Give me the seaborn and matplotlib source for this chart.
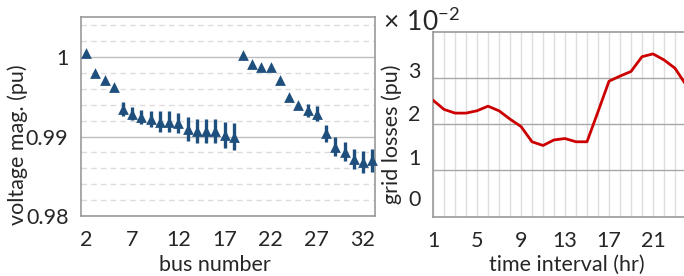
import numpy as np
import pandas as pd
import seaborn as sns
import matplotlib.pyplot as plt
from matplotlib.ticker import MultipleLocator

sns.set_style('white')
plt.rcParams['font.family'] = ['Lato', 'DejaVu Sans']
plt.rcParams['mathtext.fontset'] = 'custom'
plt.rcParams['mathtext.rm'] = 'Lato'

# bus voltages (left panel)
bus = list(range(2, 34))
vmag = [1.0005, 0.9980, 0.9971, 0.9963, 0.9935, 0.9929, 0.9925, 0.9922,
        0.9919, 0.9919, 0.9917, 0.9910, 0.9907, 0.9907, 0.9907, 0.9902,
        0.9900, 1.0003, 0.9992, 0.9988, 0.9988, 0.9971, 0.9950, 0.9940,
        0.9933, 0.9929, 0.9904, 0.9887, 0.9881, 0.9872, 0.9868, 0.9870]
verr = [0.0, 0.0, 0.0, 0.0, 0.0009, 0.0008, 0.0009, 0.0010,
        0.0013, 0.0013, 0.0013, 0.0015, 0.0015, 0.0015, 0.0015, 0.0016,
        0.0017, 0.0, 0.0, 0.0, 0.0, 0.0, 0.0, 0.0002,
        0.0008, 0.0009, 0.0011, 0.0012, 0.0012, 0.0013, 0.0014, 0.0014]

# grid losses (right panel), in 1e-2 pu
hour = list(range(1, 25))
loss = [2.52, 2.32, 2.24, 2.24, 2.29, 2.39, 2.29, 2.11, 1.95, 1.62, 1.54, 1.66,
        1.69, 1.62, 1.62, 2.27, 2.93, 3.04, 3.14, 3.46, 3.52, 3.39, 3.21, 2.85]

df_v = pd.DataFrame({'bus': bus, 'vmag': vmag, 'err': verr})
df_l = pd.DataFrame({'hour': hour, 'loss': loss})

blue = '#1f4f7d'
red = '#cc0000'
spine = '#9a9a9a'
fs = 15.5

fig = plt.figure(figsize=(6.84, 2.76), dpi=100)

# ---- left: voltage magnitude
ax1 = fig.add_axes([81/684, 60/276, 294/684, 199.3/276])
ax1.errorbar(df_v['bus'], df_v['vmag'], yerr=df_v['err'], fmt='none',
             ecolor=blue, elinewidth=2.4, capsize=0, zorder=3)
sns.scatterplot(data=df_v, x='bus', y='vmag', marker='^', s=60, color=blue,
                edgecolor=blue, linewidth=0, ax=ax1, zorder=4, clip_on=False)
ax1.set_xlim(1.45, 33.3)
ax1.set_ylim(0.98, 1.0051)
ax1.set_xticks(range(2, 34, 5))
ax1.set_yticks([0.98, 0.99, 1.0])
ax1.set_yticklabels(['0.98', '0.99', '1'])
ax1.yaxis.set_minor_locator(MultipleLocator(0.002))
ax1.grid(which='major', axis='y', color='#bdbdbd', linewidth=1.0)
ax1.grid(which='minor', axis='y', color='#dcdcdc', linewidth=1.0, linestyle=(0, (4, 3)))
ax1.set_axisbelow(True)
ax1.tick_params(which='both', length=0, labelsize=fs)
ax1.tick_params(axis='x', pad=10)
ax1.tick_params(axis='y', pad=9)
ax1.set_xlabel('bus number', fontsize=fs, va='baseline')
ax1.set_ylabel('voltage mag. (pu)', fontsize=fs)
ax1.xaxis.set_label_coords(0.456, -0.276)
ax1.yaxis.set_label_coords(-0.18, 0.356)
for s in ax1.spines.values():
    s.set_color(spine)
    s.set_linewidth(1.2)

# ---- right: grid losses
ax2 = fig.add_axes([433/684, 59.3/276, 253/684, 185/276])
sns.lineplot(data=df_l, x='hour', y='loss', color=red, linewidth=2.0, ax=ax2, zorder=3)
ax2.set_xlim(1, 24)
ax2.set_ylim(0, 4)
ax2.set_xticks(range(1, 25, 4))
ax2.xaxis.set_minor_locator(MultipleLocator(1))
ax2.set_yticks([1, 2, 3])
ax2.set_yticks([0.4, 1.29, 2.24, 3.17], minor=True)
ax2.set_yticklabels([], minor=False)
ax2.set_yticklabels(['0', '1', '2', '3'], minor=True)
ax2.grid(which='major', axis='y', color='#a8a8a8', linewidth=1.0)
ax2.grid(which='minor', axis='x', color='#dedede', linewidth=1.0)
ax2.grid(which='major', axis='x', color='#dedede', linewidth=1.0)
ax2.set_axisbelow(True)
ax2.tick_params(which='both', length=0, labelsize=fs)
ax2.tick_params(axis='x', pad=10)
ax2.tick_params(axis='y', which='both', pad=9)
ax2.set_xlabel('time interval (hr)', fontsize=fs, va='baseline')
ax2.set_ylabel('grid losses (pu)', fontsize=fs)
ax2.xaxis.set_label_coords(0.53, -0.2935)
ax2.yaxis.set_label_coords(-0.123, 0.447)
for s in ax2.spines.values():
    s.set_color(spine)
    s.set_linewidth(1.2)

fig.text(383/684, 1 - 31/276, r'$\times\ 10^{-2}$', fontsize=19, ha='left', va='baseline')

fig.savefig('out.png', dpi=100)
